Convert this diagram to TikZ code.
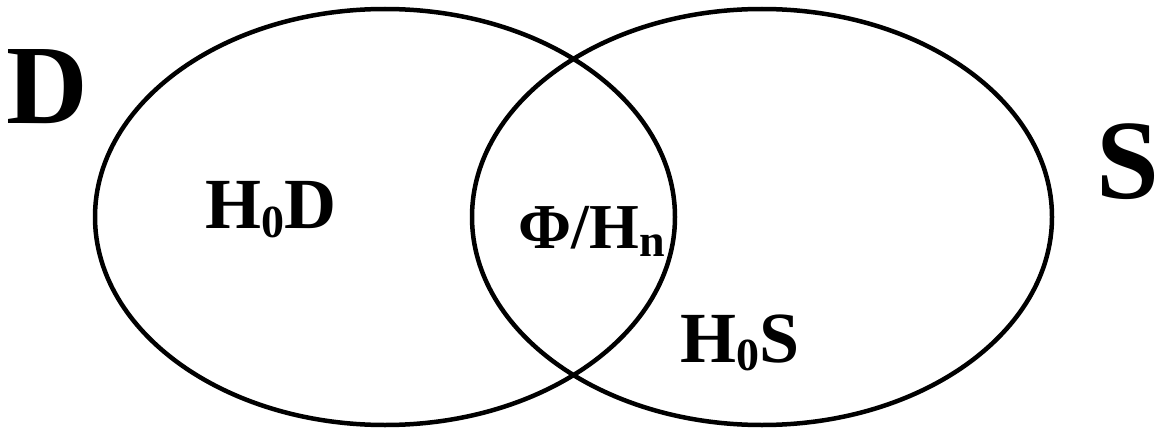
\documentclass[tikz,border=0pt]{standalone}
\usepackage{fontspec}
\setmainfont{Liberation Serif}
\usetikzlibrary{shapes.geometric,positioning}
\newcommand{\lowidx}[2]{\raisebox{-#2}{\fontsize{46}{46}\selectfont #1}}

\begin{document}
\begin{tikzpicture}[x=1pt,y=-1pt,
    setring/.style={draw,ellipse,line width=4.5pt,inner sep=0pt,minimum width=580pt,minimum height=416pt},
    biglabel/.style={font=\bfseries\fontsize{113}{113}\selectfont,inner sep=0pt,anchor=base},
    midlabel/.style={font=\bfseries\fontsize{72}{72}\selectfont,inner sep=0pt,anchor=base}]
    \useasboundingbox (0,0) rectangle (1160,428);
    % the two sets
    \node[setring] (setD) at (385,217) {};
    \node[setring] (setS) at (762,217) {};
    % set names
    \node[biglabel] (nameD) at (47,123) {D};
    \node[biglabel] (nameS) at (1128,198) {S};
    % regions
    \node[midlabel] (onlyD) at (271,228) {H\lowidx{0}{9pt}D};
    \node[midlabel,font=\bfseries\fontsize{64}{64}\selectfont] (both) at (592,248) {Φ/H\lowidx{n}{8pt}};
    \node[midlabel] (onlyS) at (740,362) {H\lowidx{0}{8pt}S};
\end{tikzpicture}
\end{document}
